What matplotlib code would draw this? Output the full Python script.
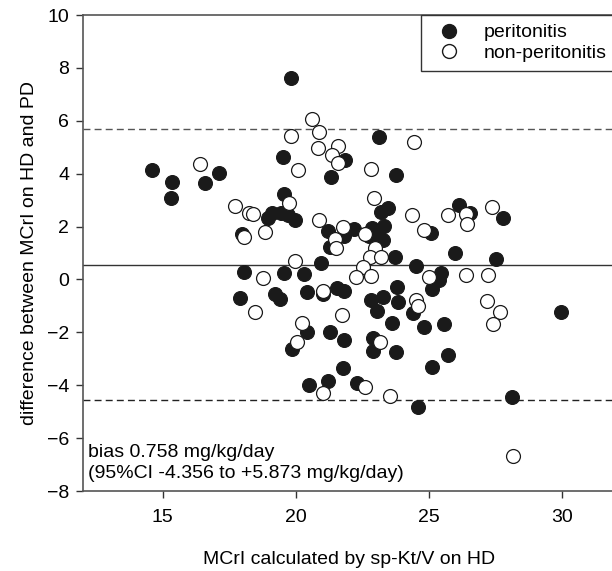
import numpy as np
import matplotlib
matplotlib.use("Agg")
import matplotlib.pyplot as plt
from matplotlib.lines import Line2D

plt.rcParams['font.family'] = ['Liberation Sans', 'DejaVu Sans']

# peritonitis (filled circles)
peri_x = [14.61, 15.33, 15.30, 16.58, 17.11, 17.99, 18.07, 18.95, 19.12, 19.45,
          19.69, 19.96, 19.81, 19.53, 19.56, 19.56, 20.31, 21.86, 21.33, 23.12,
          23.75, 21.22, 21.30, 21.80, 22.20, 22.75, 22.86, 23.10, 23.30, 23.28,
          23.22, 23.47, 23.73, 20.94, 26.12, 26.53, 27.80, 25.08, 25.97, 27.52,
          24.51, 25.47, 25.39, 23.79, 25.11, 17.89, 19.22, 19.40, 20.42, 21.01,
          21.55, 21.81, 22.83, 23.28, 23.07, 23.83, 20.42, 19.87, 21.30, 21.81,
          22.92, 22.90, 23.77, 23.60, 21.77, 20.48, 21.22, 22.31, 24.42, 24.82,
          25.58, 29.98, 25.72, 25.11, 24.61, 28.12]
peri_y = [4.14, 3.70, 3.09, 3.66, 4.01, 1.72, 0.27, 2.33, 2.50, 2.52,
          2.44, 2.25, 7.61, 4.64, 3.23, 0.25, 0.20, 4.52, 3.86, 5.37,
          3.94, 1.85, 1.24, 1.64, 1.90, 1.63, 1.95, 1.72, 2.02, 1.50,
          2.56, 2.69, 0.86, 0.64, 2.81, 2.50, 2.31, 1.74, 0.99, 0.77,
          0.51, 0.25, -0.02, -0.30, -0.35, -0.70, -0.55, -0.74, -0.48, -0.55,
          -0.31, -0.42, -0.78, -0.65, -1.18, -0.84, -1.98, -2.61, -1.98, -2.29,
          -2.20, -2.70, -2.74, -1.66, -3.33, -3.98, -3.84, -3.93, -1.26, -1.79,
          -1.69, -1.22, -2.86, -3.30, -4.81, -4.46]

# non-peritonitis (open circles)
nonperi_x = [16.40, 17.72, 18.25, 18.40, 18.07, 18.86, 18.75, 19.81, 20.10, 19.76,
             19.96, 20.62, 20.89, 20.82, 21.60, 21.36, 21.58, 22.84, 24.46, 22.94,
             20.86, 21.77, 21.48, 21.51, 22.59, 22.97, 22.78, 23.20, 22.52, 22.27,
             22.84, 24.38, 25.72, 26.38, 26.44, 27.36, 24.80, 24.99, 26.38, 27.22,
             18.45, 20.25, 20.06, 21.01, 21.74, 23.18, 21.03, 22.59, 23.53, 24.53,
             24.61, 27.17, 27.68, 27.42, 28.17]
nonperi_y = [4.35, 2.79, 2.52, 2.48, 1.62, 1.80, 0.06, 5.42, 4.14, 2.90,
             0.71, 6.08, 5.56, 4.96, 5.05, 4.71, 4.39, 4.18, 5.18, 3.10,
             2.25, 1.99, 1.52, 1.20, 1.72, 1.18, 0.84, 0.86, 0.48, 0.10,
             0.13, 2.44, 2.44, 2.47, 2.10, 2.75, 1.87, 0.10, 0.17, 0.17,
             -1.24, -1.64, -2.36, -0.42, -1.33, -2.38, -4.31, -4.08, -4.40, -0.78,
             -1.01, -0.82, -1.22, -1.69, -6.67]

mean_line = 0.55
upper_loa = 5.70
lower_loa = -4.56

fs = 14

fig = plt.figure(figsize=(6.12, 5.71), dpi=100)
ax = fig.add_axes([0.1356, 0.140, 0.8694, 0.8337])

ax.axhline(mean_line, color='#333333', lw=1.0, zorder=1)
ax.axhline(upper_loa, color='#555555', lw=1.0, ls=(0, (5, 3)), zorder=1)
ax.axhline(lower_loa, color='#222222', lw=1.0, ls=(0, (5, 3)), zorder=1)

ax.scatter(peri_x, peri_y, s=100, c='#1a1a1a', edgecolors='#1a1a1a', linewidths=0.8, zorder=2)
ax.scatter(nonperi_x, nonperi_y, s=100, facecolors='white', edgecolors='#1a1a1a',
           linewidths=0.9, zorder=3)

ax.set_xlim(12, 32)
ax.set_ylim(-8, 10)
ax.set_xticks([15, 20, 25, 30])
ax.set_yticks(np.arange(-8, 11, 2))
ax.tick_params(labelsize=fs, length=5, width=1, color='#333333', pad=5)
ax.tick_params(axis='x', pad=8)

for side in ['left', 'bottom', 'top']:
    ax.spines[side].set_color('#555555')
    ax.spines[side].set_linewidth(1.2)
ax.spines['right'].set_visible(False)

ax.set_xlabel("MCrI calculated by sp-Kt/V on HD", fontsize=fs, labelpad=18)
ax.set_ylabel("difference between MCrI on HD and PD", fontsize=fs, labelpad=6)

ax.text(12.2, -6.53, "bias 0.758 mg/kg/day", fontsize=fs, va='center', ha='left')
ax.text(12.2, -7.32, "(95%CI -4.356 to +5.873 mg/kg/day)", fontsize=fs, va='center', ha='left')

handles = [
    Line2D([], [], ls='none', marker='o', markersize=10, markerfacecolor='#1a1a1a',
           markeredgecolor='#1a1a1a', label='peritonitis'),
    Line2D([], [], ls='none', marker='o', markersize=10, markerfacecolor='white',
           markeredgecolor='#1a1a1a', label='non-peritonitis'),
]
leg = ax.legend(handles=handles, loc='upper right', bbox_to_anchor=(1.0, 1.0),
                borderaxespad=0, fancybox=False, framealpha=1, edgecolor='#333333',
                fontsize=fs, handletextpad=0.75, labelspacing=0.15, borderpad=0.45)
leg.get_frame().set_linewidth(1.0)

fig.savefig("out.png", dpi=100)
